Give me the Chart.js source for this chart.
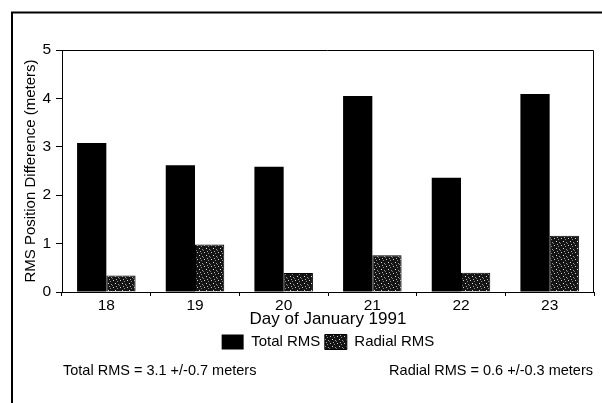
<!DOCTYPE html>
<html>
<head>
<meta charset="utf-8">
<script src="https://cdn.jsdelivr.net/npm/chart.js@4/dist/chart.umd.min.js"></script>
<style>
  html, body { margin: 0; padding: 0; background: #fff; }
  #wrap { position: relative; width: 602px; height: 403px; overflow: hidden; background: #fff; }
  #c { position: absolute; left: 0; top: 0; }
  .stat { position: absolute; font-family: "Liberation Sans", Arial, Helvetica, sans-serif; font-size: 14.5px; color: #000; white-space: nowrap; line-height: 18px; }
</style>
</head>
<body>
<div id="wrap">
  <canvas id="c" width="602" height="403"></canvas>
  <div class="stat" id="s1" style="left:63px; top:361px;"></div>
  <div class="stat" id="s2" style="right:9px; top:361px;"></div>
</div>
<script>
// ---- data ----
const days = ['18', '19', '20', '21', '22', '23'];
const totalRms = [3.08, 2.62, 2.59, 4.05, 2.36, 4.09];
const radialRms = [0.34, 0.98, 0.39, 0.76, 0.40, 1.16];
const seriesNames = ['Total RMS', 'Radial RMS'];
const yTicks = [0, 1, 2, 3, 4, 5];
const xTitle = 'Day of January 1991';
const yTitle = 'RMS Position Difference (meters)';
const statTexts = ['Total RMS = 3.1 +/-0.7 meters', 'Radial RMS = 0.6 +/-0.3 meters'];

document.getElementById('s1').textContent = statTexts[0];
document.getElementById('s2').textContent = statTexts[1];

const FONT = '"Liberation Sans", Arial, Helvetica, sans-serif';

// speckled dark texture for the radial bars (fixed layout, no randomness)
function makePattern() {
  const p = document.createElement('canvas');
  p.width = 7; p.height = 7;
  const g = p.getContext('2d');
  g.fillStyle = '#141414';
  g.fillRect(0, 0, 7, 7);
  const light = [[1,0,'#cfcfcf'],[5,1,'#8a8a8a'],[3,3,'#e0e0e0'],[6,4,'#9a9a9a'],[0,5,'#707070'],[4,6,'#b0b0b0']];
  light.forEach(([x, y, c]) => { g.fillStyle = c; g.fillRect(x, y, 1, 1); });
  return g.createPattern(p, 'repeat');
}
const ctx = document.getElementById('c').getContext('2d');
const speckle = makePattern();

const framePlugin = {
  id: 'frame',
  beforeDraw(chart) {
    const c = chart.ctx;
    c.save();
    c.fillStyle = '#fff';
    c.fillRect(0, 0, chart.width, chart.height);
    c.strokeStyle = '#000';
    c.lineWidth = 2;
    c.beginPath();
    c.moveTo(12, 403); c.lineTo(12, 12.5); c.lineTo(602, 12.5);
    c.stroke();
    c.restore();
  },
  afterDraw(chart) {
    const a = chart.chartArea;
    const c = chart.ctx;
    c.save();
    c.strokeStyle = '#000';
    c.lineWidth = 1;
    c.beginPath();
    c.moveTo(a.left, a.top + 0.5); c.lineTo(a.right - 0.5, a.top + 0.5); c.lineTo(a.right - 0.5, a.bottom);
    c.stroke();
    c.restore();
  }
};

new Chart(ctx, {
  type: 'bar',
  data: {
    labels: days,
    datasets: [
      { label: seriesNames[0], data: totalRms, backgroundColor: '#000', borderWidth: 0,
        categoryPercentage: 0.66, barPercentage: 1.0 },
      { label: seriesNames[1], data: radialRms, backgroundColor: speckle, borderColor: '#000', borderWidth: 1,
        categoryPercentage: 0.66, barPercentage: 1.0 }
    ]
  },
  options: {
    responsive: false,
    animation: false,
    events: [],
    layout: { padding: { left: 0, top: 50, right: 8, bottom: 43.5 } },
    plugins: {
      tooltip: { enabled: false },
      legend: {
        position: 'bottom',
        fullSize: false,
        labels: {
          color: '#000',
          font: { family: FONT, size: 15 },
          boxWidth: 22,
          boxHeight: 15,
          padding: 4.5
        }
      }
    },
    scales: {
      x: {
        offset: true,
        grid: { display: true, drawOnChartArea: false, offset: true, color: '#000', tickLength: 4, tickWidth: 1 },
        border: { display: true, color: '#000', width: 1 },
        ticks: { color: '#000', font: { family: FONT, size: 15.5 }, padding: 0, maxRotation: 0 },
        title: { display: true, text: xTitle, color: '#000', font: { family: FONT, size: 17 }, padding: { top: 0, bottom: 0 } },
        afterFit(scale) { scale.height = 38; }
      },
      y: {
        min: 0, max: 5,
        afterBuildTicks(scale) { scale.ticks = yTicks.map(v => ({ value: v })); },
        grid: { display: true, drawOnChartArea: false, color: '#000', tickLength: 6, tickWidth: 1 },
        border: { display: true, color: '#000', width: 1 },
        ticks: { color: '#000', font: { family: FONT, size: 15.5 }, padding: 5 },
        title: { display: true, text: yTitle, color: '#000', font: { family: FONT, size: 15 }, padding: { top: 22, bottom: 0 } },
        afterFit(scale) { scale.width = 62; }
      }
    }
  },
  plugins: [framePlugin]
});
</script>
</body>
</html>
